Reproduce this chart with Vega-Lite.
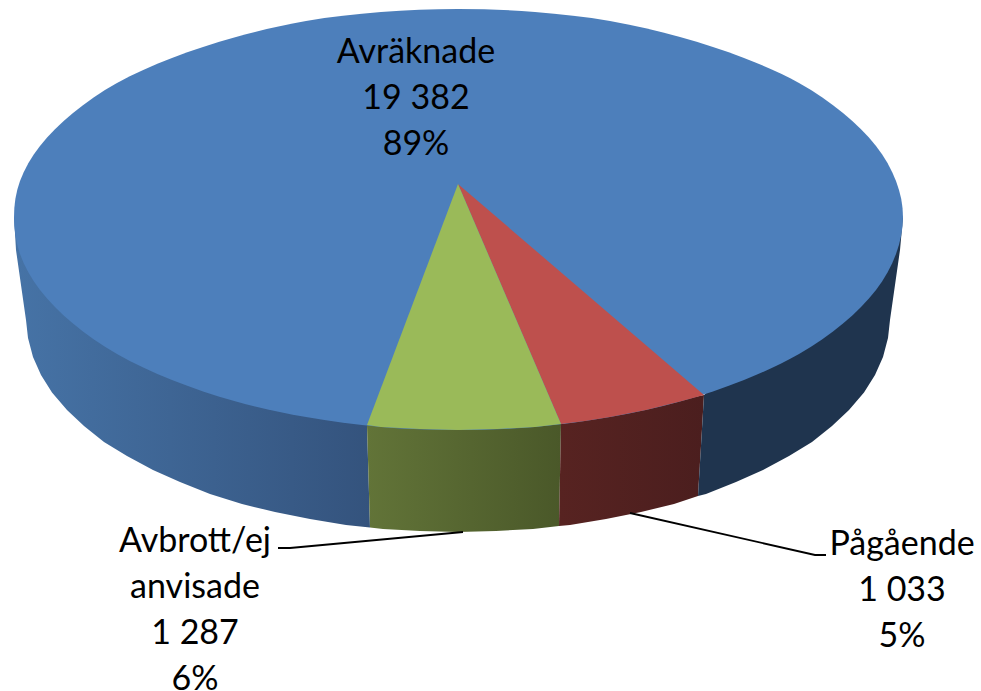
{"$schema":"https://vega.github.io/schema/vega-lite/v6.json","width":981,"height":691,"padding":0,"autosize":"none","background":"white","view":{"stroke":null},
"datasets":{
"rimBlueLeft":[{"i":0,"x":14,"y":217},{"i":1,"x":16,"y":250},{"i":2,"x":26,"y":320},{"i":3,"x":28,"y":338},{"i":4,"x":33,"y":357},{"i":5,"x":41,"y":375},{"i":6,"x":52,"y":392.5},{"i":7,"x":67,"y":410},{"i":8,"x":84,"y":426},{"i":9,"x":104,"y":442},{"i":10,"x":127,"y":456},{"i":11,"x":153,"y":470},{"i":12,"x":180,"y":482},{"i":13,"x":210,"y":494},{"i":14,"x":242,"y":504},{"i":15,"x":275,"y":512},{"i":16,"x":310,"y":519},{"i":17,"x":346,"y":525},{"i":18,"x":370,"y":527.5},{"i":19,"x":367,"y":425}],
"rimGreen":[{"i":0,"x":367,"y":425},{"i":1,"x":370,"y":527.5},{"i":2,"x":383,"y":529},{"i":3,"x":420,"y":531},{"i":4,"x":458,"y":532},{"i":5,"x":496,"y":531},{"i":6,"x":533,"y":529},{"i":7,"x":559,"y":526},{"i":8,"x":561,"y":424}],
"rimRed":[{"i":0,"x":561,"y":424},{"i":1,"x":559,"y":526},{"i":2,"x":570,"y":525},{"i":3,"x":606,"y":519},{"i":4,"x":641,"y":512},{"i":5,"x":674,"y":504},{"i":6,"x":698,"y":496},{"i":7,"x":704,"y":395}],
"rimBlueRight":[{"i":0,"x":704,"y":395},{"i":1,"x":698,"y":496},{"i":2,"x":706,"y":494},{"i":3,"x":736,"y":482},{"i":4,"x":763,"y":470},{"i":5,"x":789,"y":456},{"i":6,"x":812,"y":442},{"i":7,"x":832,"y":426},{"i":8,"x":849,"y":410},{"i":9,"x":864,"y":392.5},{"i":10,"x":875,"y":375},{"i":11,"x":883,"y":357},{"i":12,"x":888,"y":338},{"i":13,"x":890,"y":320},{"i":14,"x":900,"y":250},{"i":15,"x":903,"y":217}],
"faceBlue":[{"i":0,"x":903,"y":217},{"i":1,"x":896,"y":181},{"i":2,"x":876,"y":146},{"i":3,"x":843,"y":113},{"i":4,"x":799,"y":83},{"i":5,"x":744,"y":58},{"i":6,"x":680,"y":37},{"i":7,"x":610,"y":21},{"i":8,"x":535,"y":12},{"i":9,"x":458,"y":9},{"i":10,"x":381,"y":12},{"i":11,"x":306,"y":21},{"i":12,"x":236,"y":37},{"i":13,"x":172,"y":58},{"i":14,"x":117,"y":83},{"i":15,"x":73,"y":113},{"i":16,"x":40,"y":146},{"i":17,"x":20,"y":181},{"i":18,"x":14,"y":217},{"i":19,"x":20,"y":254},{"i":20,"x":40,"y":290},{"i":21,"x":73,"y":323.5},{"i":22,"x":117,"y":354},{"i":23,"x":172,"y":380},{"i":24,"x":236,"y":401.5},{"i":25,"x":306,"y":417},{"i":26,"x":381,"y":427},{"i":27,"x":458,"y":430},{"i":28,"x":535,"y":427},{"i":29,"x":610,"y":417},{"i":30,"x":680,"y":401.5},{"i":31,"x":744,"y":380},{"i":32,"x":799,"y":354},{"i":33,"x":843,"y":323.5},{"i":34,"x":876,"y":290},{"i":35,"x":896,"y":254}],
"faceRed":[{"i":0,"x":458,"y":184},{"i":1,"x":704,"y":395},{"i":2,"x":680,"y":401.5},{"i":3,"x":646,"y":410},{"i":4,"x":610,"y":417},{"i":5,"x":585,"y":421},{"i":6,"x":561,"y":424}],
"faceGreen":[{"i":0,"x":458,"y":184},{"i":1,"x":561,"y":424},{"i":2,"x":535,"y":427},{"i":3,"x":497,"y":429},{"i":4,"x":458,"y":430},{"i":5,"x":420,"y":429},{"i":6,"x":381,"y":427},{"i":7,"x":367,"y":425}],
"leaders":[{"slice":"Avbrott","i":0,"x":278,"y":548},{"slice":"Avbrott","i":1,"x":290,"y":548},{"slice":"Avbrott","i":2,"x":463,"y":532},{"slice":"Pagaende","i":0,"x":630,"y":513},{"slice":"Pagaende","i":1,"x":815,"y":555},{"slice":"Pagaende","i":2,"x":826,"y":555}],
"labels":[{"label":"Avräknade\n19 382\n89%","x":416,"y":63},{"label":"Pågående\n1 033\n5%","x":902,"y":555},{"label":"Avbrott/ej\nanvisade\n1 287\n6%","x":195,"y":552}]
},
"encoding":{
"x":{"field":"x","type":"quantitative","scale":{"domain":[0,981],"nice":false,"zero":false},"axis":null},
"y":{"field":"y","type":"quantitative","scale":{"domain":[691,0],"nice":false,"zero":false},"axis":null}
},
"layer":[
{"data":{"name":"rimBlueLeft"},"mark":{"type":"line","interpolate":"linear-closed","strokeWidth":0,"fill":{"gradient":"linear","x1":0,"y1":0,"x2":1,"y2":0,"stops":[{"offset":0,"color":"#4673a6"},{"offset":1,"color":"#34537d"}]}},"encoding":{"order":{"field":"i"}}},
{"data":{"name":"rimGreen"},"mark":{"type":"line","interpolate":"linear-closed","strokeWidth":0,"fill":{"gradient":"linear","x1":0,"y1":0,"x2":1,"y2":0,"stops":[{"offset":0,"color":"#627438"},{"offset":1,"color":"#4a5829"}]}},"encoding":{"order":{"field":"i"}}},
{"data":{"name":"rimRed"},"mark":{"type":"line","interpolate":"linear-closed","strokeWidth":0,"fill":{"gradient":"linear","x1":0,"y1":0,"x2":1,"y2":0,"stops":[{"offset":0,"color":"#572321"},{"offset":1,"color":"#4b1e1e"}]}},"encoding":{"order":{"field":"i"}}},
{"data":{"name":"rimBlueRight"},"mark":{"type":"line","interpolate":"linear-closed","strokeWidth":0,"fill":"#1f344e"},"encoding":{"order":{"field":"i"}}},
{"data":{"name":"faceBlue"},"mark":{"type":"line","interpolate":"cardinal-closed","strokeWidth":0,"fill":"#4d7fbb"},"encoding":{"order":{"field":"i"}}},
{"data":{"name":"faceRed"},"mark":{"type":"line","interpolate":"linear-closed","strokeWidth":0,"fill":"#be504d"},"encoding":{"order":{"field":"i"}}},
{"data":{"name":"faceGreen"},"mark":{"type":"line","interpolate":"linear-closed","strokeWidth":0,"fill":"#9aba59"},"encoding":{"order":{"field":"i"}}},
{"data":{"name":"leaders"},"mark":{"type":"line","color":"#000000","strokeWidth":1.8},"encoding":{"order":{"field":"i"},"detail":{"field":"slice"}}},
{"data":{"name":"labels"},"mark":{"type":"text","font":"Lato","fontSize":34,"lineBreak":"\n","lineHeight":46,"align":"center","baseline":"alphabetic","color":"#000000"},"encoding":{"text":{"field":"label"}}}
]}
